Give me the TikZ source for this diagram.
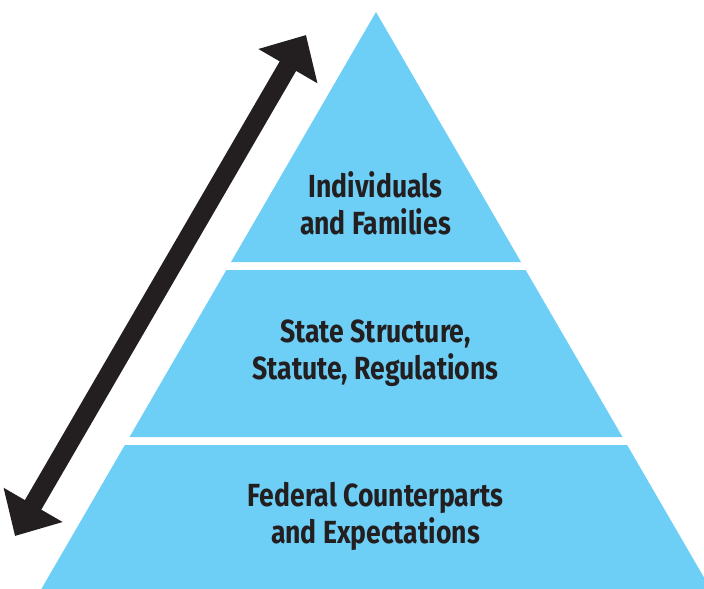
\documentclass[tikz,border=0pt]{standalone}
\usepackage{fontspec}
\setmainfont{Fira Sans}[FakeStretch=0.83]
\usepackage{xcolor}
\usetikzlibrary{arrows.meta}
\definecolor{pyrblue}{HTML}{6DCFF6}
\definecolor{inkdark}{HTML}{231F20}

\begin{document}
\begin{tikzpicture}[x=0.75pt,y=-0.75pt,
    band/.style={fill=pyrblue},
    label text/.style={text=inkdark,font=\bfseries\fontsize{24}{24}\selectfont,anchor=base,inner sep=0pt}]
      \useasboundingbox (0,0) rectangle (704,589);
      \clip (0,0) rectangle (704,589);
      % the three bands, cut from one triangle
      \foreach \a/\b in {12/262,270/437,445/589}
        \fill[band] ({376-0.58*(\a-12)},\a) -- ({376+0.58*(\a-12)},\a)
          -- ({376+0.58*(\b-12)},\b) -- ({376-0.58*(\b-12)},\b) -- cycle;
      \node[label text] (indiv) at (375.5,197) {Individuals};
      \node[label text] (fam) at (375.5,234) {and Families};
      \node[label text] (state) at (375.5,342) {State Structure,};
      \node[label text] (statute) at (375.5,379) {Statute, Regulations};
      \node[label text] (federal) at (375.5,506) {Federal Counterparts};
      \node[label text] (expect) at (375.5,543) {and Expectations};
      % double arrow
      \coordinate (low end) at (15,536);
      \coordinate (high end) at (306,35);
      \draw[inkdark,line width=14.25pt,{Triangle[length=27pt,width=49.5pt]}-{Triangle[length=27pt,width=49.5pt]}] (low end) -- (high end);
    \end{tikzpicture}
\end{document}
